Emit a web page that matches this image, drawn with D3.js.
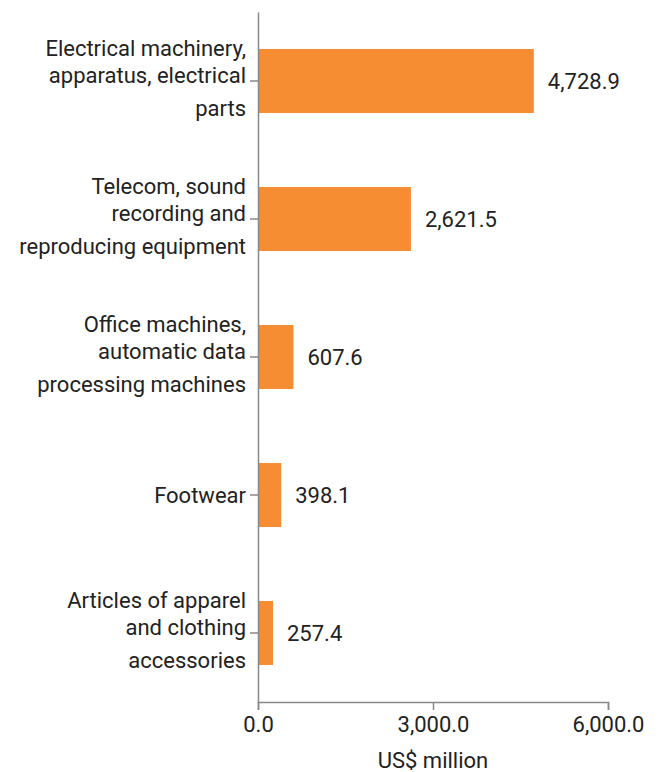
<!DOCTYPE html>
<html>
<head>
<meta charset="utf-8">
<script src="https://cdn.jsdelivr.net/npm/d3@7"></script>
<style>
  body { margin: 0; background: #fff; }
  svg text { font-family: Roboto, "Noto Sans", sans-serif; }
</style>
</head>
<body>
<div id="chart"></div>
<script>
// Data
const categories = [
  ["Electrical machinery,", "apparatus, electrical", "parts"],
  ["Telecom, sound", "recording and", "reproducing equipment"],
  ["Office machines,", "automatic data", "processing machines"],
  ["Footwear"],
  ["Articles of apparel", "and clothing", "accessories"]
];
const values = [4728.9, 2621.5, 607.6, 398.1, 257.4];
const xTicks = [0, 3000, 6000];
const axisTitle = "US$ million";

const width = 662;
const height = 772;
const marginLeft = 258;
const marginRight = 54;
const marginTop = 12;
const marginBottom = 70;
const fontSize = 22;

const fmt = d3.format(",.1f");
const keys = categories.map((c, i) => i);

const x = d3.scaleLinear()
  .domain([0, 6000])
  .range([marginLeft, width - marginRight]);

const y = d3.scaleBand()
  .domain(keys)
  .range([marginTop, height - marginBottom])
  .paddingInner(0.536)
  .paddingOuter(0.268);

const svg = d3.select("#chart")
  .append("svg")
  .attr("width", width)
  .attr("height", height)
  .attr("viewBox", [0, 0, width, height]);

// Bars
svg.append("g")
  .attr("fill", "#f68d33")
  .selectAll("rect")
  .data(values)
  .join("rect")
  .attr("x", x(0))
  .attr("y", (d, i) => y(i))
  .attr("width", d => x(d) - x(0))
  .attr("height", y.bandwidth());

// Value labels
svg.append("g")
  .selectAll("text")
  .data(values)
  .join("text")
  .attr("x", d => x(d) + 14)
  .attr("y", (d, i) => y(i) + y.bandwidth() / 2)
  .attr("dy", "0.35em")
  .attr("font-size", fontSize)
  .attr("fill", "#222")
  .text(d => fmt(d));

// Y axis
const yAxis = svg.append("g")
  .attr("transform", `translate(${marginLeft},0)`)
  .call(d3.axisLeft(y).tickSize(8).tickSizeOuter(0).tickFormat(""));
yAxis.select(".domain").attr("stroke", "#888").attr("stroke-width", 1.5);
yAxis.selectAll(".tick line").attr("stroke", "#888").attr("stroke-width", 1.5);

// multi-line category labels (uneven spacing as in source)
const lineOffsets = { 1: [0], 3: [-33, -6, 27] };
svg.append("g")
  .selectAll("text")
  .data(categories)
  .join("text")
  .attr("text-anchor", "end")
  .attr("font-size", fontSize)
  .attr("fill", "#222")
  .each(function(lines, i) {
    const cy = y(i) + y.bandwidth() / 2;
    const offs = lineOffsets[lines.length];
    d3.select(this).selectAll("tspan")
      .data(lines)
      .join("tspan")
      .attr("x", marginLeft - 12)
      .attr("y", (d, j) => cy + offs[j])
      .attr("dy", "0.35em")
      .text(d => d);
  });

// X axis
const xAxis = svg.append("g")
  .attr("transform", `translate(0,${height - marginBottom})`)
  .call(d3.axisBottom(x).tickValues(xTicks).tickFormat(fmt).tickSize(8).tickPadding(6));
xAxis.select(".domain").attr("stroke", "#888").attr("stroke-width", 1.5);
xAxis.selectAll(".tick line").attr("stroke", "#888").attr("stroke-width", 1.5);
xAxis.selectAll(".tick text")
  .attr("font-size", fontSize)
  .attr("fill", "#222")
  .attr("font-family", "Roboto, sans-serif");

svg.append("text")
  .attr("x", (x(0) + x(6000)) / 2)
  .attr("y", height - 4)
  .attr("text-anchor", "middle")
  .attr("font-size", fontSize)
  .attr("fill", "#222")
  .text(axisTitle);
</script>
</body>
</html>
